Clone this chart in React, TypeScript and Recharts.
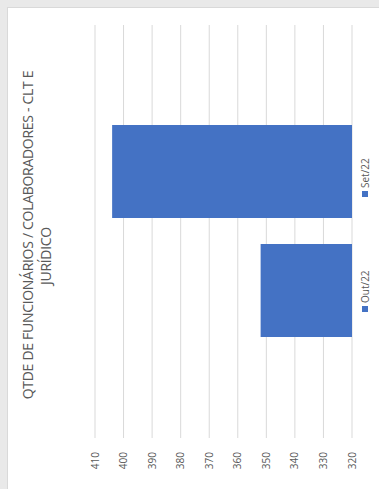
import React from "react";
import { BarChart, Bar, XAxis, YAxis, CartesianGrid } from "recharts";

const categories = [""];
const seriesNames = ["Out/22", "Set/22"];
const outValues = [352];
const setValues = [404];
const yTicks = [320, 330, 340, 350, 360, 370, 380, 390, 400, 410];
const titleLines = ["QTDE DE FUNCIONÁRIOS / COLABORADORES - CLT E", "JURÍDICO"];

const data = categories.map((c, i) => ({ name: c, out: outValues[i], set: setValues[i] }));

const BLUE = "#4472C4";
const TEXT = "#595959";
const FONT = "'Open Sans', sans-serif";

export default function App() {
  const W = 482;
  const H = 372;
  return (
    <div style={{ position: "fixed", left: 0, top: 0, width: 379, height: 489, background: "#e9e9e9", overflow: "hidden" }}>
      <div
        style={{
          position: "absolute",
          left: 7,
          top: 489,
          width: W,
          height: H,
          transformOrigin: "0 0",
          transform: "rotate(-90deg)",
          background: "#ffffff",
          borderTop: "1px solid #d9d9d9",
          borderRight: "1px solid #d9d9d9",
          boxSizing: "border-box",
        }}
      >
        <div style={{ position: "absolute", left: 0, top: 0, width: W, height: H }}>
          <BarChart width={W} height={H} data={data} margin={{ top: 87, right: 18, bottom: 28, left: 0 }} barGap={26} barSize={93}>
            <CartesianGrid horizontal={true} vertical={false} stroke="#d9d9d9" />
            <XAxis dataKey="name" hide />
            <YAxis
              domain={[320, 410]}
              ticks={yTicks}
              interval={0}
              axisLine={false}
              tickLine={false}
              tickSize={0}
              tickMargin={14}
              width={51}
              tick={{ fill: TEXT, fontSize: 10, fontFamily: FONT }}
            />
            <Bar dataKey="out" name={seriesNames[0]} fill={BLUE} isAnimationActive={false} />
            <Bar dataKey="set" name={seriesNames[1]} fill={BLUE} isAnimationActive={false} />
          </BarChart>
        </div>
        <div style={{ position: "absolute", left: 0, top: 11, width: 508, textAlign: "center", fontFamily: FONT, fontSize: 14, letterSpacing: -0.3, color: TEXT, whiteSpace: "nowrap", lineHeight: "18px" }}>
          {titleLines[0]}
        </div>
        <div style={{ position: "absolute", left: 0, top: 29, width: 466, textAlign: "center", fontFamily: FONT, fontSize: 14, letterSpacing: -0.3, color: TEXT, whiteSpace: "nowrap", lineHeight: "18px" }}>
          {titleLines[1]}
        </div>
        {seriesNames.map((n, i) => (
          <div
            key={n}
            style={{
              position: "absolute",
              left: i === 0 ? 177 : 292,
              top: 350,
              display: "flex",
              alignItems: "center",
              fontFamily: FONT,
              fontSize: 10,
              color: TEXT,
              lineHeight: "14px",
              whiteSpace: "nowrap",
            }}
          >
            <span style={{ display: "inline-block", width: 6, height: 6, background: BLUE, marginRight: 3 }} />
            {n}
          </div>
        ))}
      </div>
    </div>
  );
}
